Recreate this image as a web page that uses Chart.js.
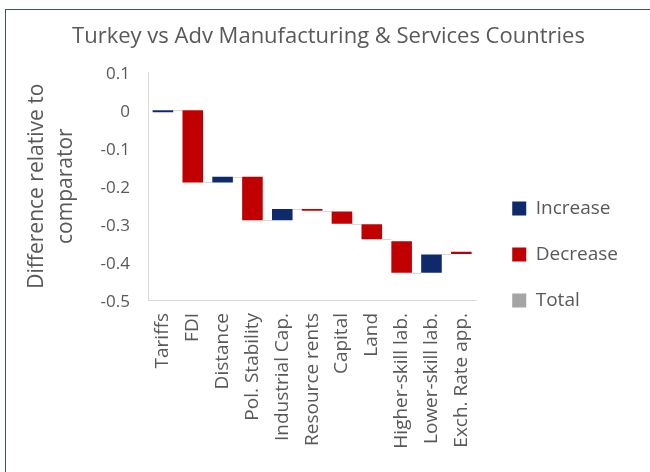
<!DOCTYPE html>
<html>
<head>
<meta charset="utf-8">
<script src="https://cdn.jsdelivr.net/npm/chart.js@4"></script>
<style>
  html, body { margin: 0; padding: 0; background: #fff; }
  #wrap { position: relative; width: 650px; height: 472px; }
  #frame {
    position: absolute; left: 5px; top: 9px; right: 0; bottom: 0;
    border-top: 1px solid #3d5c45; border-left: 1px solid #3d5c45;
    pointer-events: none;
  }
</style>
</head>
<body>
<div id="wrap">
  <canvas id="chart" width="650" height="472"></canvas>
  <div id="frame"></div>
</div>
<script>
const categories = [
  "Tariffs", "FDI", "Distance", "Pol. Stability", "Industrial Cap.",
  "Resource rents", "Capital", "Land", "Higher-skill lab.",
  "Lower-skill lab.", "Exch. Rate app."
];
// where each step starts and ends
const starts = [-0.005, 0, -0.19, -0.175, -0.29, -0.26, -0.267, -0.30, -0.345, -0.428, -0.373];
const ends   = [0, -0.19, -0.175, -0.29, -0.26, -0.265, -0.299, -0.34, -0.428, -0.38, -0.379];
const yTicks = [0.1, 0, -0.1, -0.2, -0.3, -0.4, -0.5];

const textColor = "#595959";
const font = "'Open Sans', sans-serif";
const barPct = 0.69;

const increase = starts.map((s, i) => (ends[i] > s ? [s, ends[i]] : null));
const decrease = starts.map((s, i) => (ends[i] < s ? [s, ends[i]] : null));
const total = categories.map(() => null);

// thin grey lines joining one step to the next
const connectors = {
  id: "connectors",
  beforeDatasetsDraw(chart) {
    const { ctx } = chart;
    const x = chart.scales.x, y = chart.scales.y;
    const half = (x.getPixelForValue(1) - x.getPixelForValue(0)) * barPct / 2;
    ctx.save();
    ctx.strokeStyle = "#d9d9d9";
    ctx.lineWidth = 1;
    for (let i = 0; i < ends.length - 1; i++) {
      const py = Math.round(y.getPixelForValue(ends[i])) + 0.5;
      ctx.beginPath();
      ctx.moveTo(x.getPixelForValue(i) + half, py);
      ctx.lineTo(x.getPixelForValue(i + 1) - half, py);
      ctx.stroke();
    }
    ctx.restore();
  },
};

// nudge the legend and title to where Excel put them
const placeBoxes = {
  id: "placeBoxes",
  afterLayout(chart) {
    const lg = chart.legend;
    lg.left += 9; lg.right += 9;
    lg.top -= 135; lg.bottom -= 135;
    const tb = chart.titleBlock;
    tb.left += 19; tb.right += 19;
  },
};

const ctx = document.getElementById("chart").getContext("2d");
new Chart(ctx, {
  type: "bar",
  data: {
    labels: categories,
    datasets: [
      { label: "Increase", data: increase, backgroundColor: "#0f2a6b", borderWidth: 0 },
      { label: "Decrease", data: decrease, backgroundColor: "#c00000", borderWidth: 0 },
      { label: "Total", data: total, backgroundColor: "#a5a5a5", borderWidth: 0 },
    ],
  },
  options: {
    responsive: false,
    animation: false,
    layout: { padding: { left: 0, right: 31, top: 0, bottom: 0 } },
    datasets: { bar: { grouped: false, barPercentage: barPct, categoryPercentage: 1 } },
    scales: {
      x: {
        grid: { display: false },
        border: { display: true, color: "#d9d9d9", width: 1 },
        ticks: {
          color: textColor, font: { family: font, size: 19 },
          minRotation: 90, maxRotation: 90, autoSkip: false, padding: 5,
        },
        afterFit: (s) => { s.height = 172; },
      },
      y: {
        min: -0.5, max: 0.1,
        grid: { display: false, drawTicks: false },
        border: { display: true, color: "#d9d9d9", width: 1 },
        afterBuildTicks: (s) => { s.ticks = yTicks.map((v) => ({ value: v })); },
        ticks: {
          color: textColor, font: { family: font, size: 17 }, padding: 18, labelOffset: 2,
          callback: (v) => (Math.abs(v) < 1e-9 ? "0" : Number(v).toFixed(1)),
        },
        title: {
          display: true,
          text: ["Difference relative to", "comparator"],
          color: textColor,
          font: { family: font, size: 21, lineHeight: 1.4 },
          padding: { top: 22, bottom: 0 },
        },
        afterFit: (s) => { s.width = 148; },
      },
    },
    plugins: {
      title: {
        display: true,
        text: "Turkey vs Adv Manufacturing & Services Countries",
        color: textColor,
        font: { family: font, size: 22, weight: "normal" },
        padding: { top: 24, bottom: 22 },
      },
      legend: {
        position: "right",
        align: "end",
        labels: {
          color: textColor, font: { family: font, size: 19 },
          boxWidth: 14, boxHeight: 14, padding: 27,
        },
      },
      tooltip: { enabled: false },
    },
  },
  plugins: [connectors, placeBoxes],
});
</script>
</body>
</html>
